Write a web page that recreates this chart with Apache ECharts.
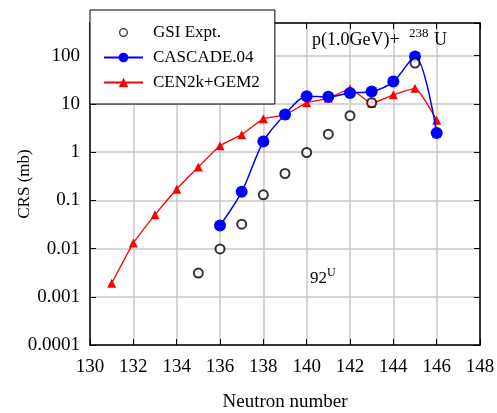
<!DOCTYPE html>
<html>
<head>
<meta charset="utf-8">
<script src="https://cdn.jsdelivr.net/npm/echarts@6/dist/echarts.min.js"></script>
<style>
html,body{margin:0;padding:0;background:#fff;}
#chart{width:497px;height:413px;}
</style>
</head>
<body>
<div id="chart"></div>
<script>
// ---- data ----
const xTicks = [130, 132, 134, 136, 138, 140, 142, 144, 146, 148];
const yTicks = ['0.0001', '0.001', '0.01', '0.1', '1', '10', '100'];

const gsiN   = [135, 136, 137, 138, 139, 140, 141, 142, 143, 145];
const gsiCRS = [0.0031, 0.0098, 0.032, 0.13, 0.36, 0.98, 2.35, 5.7, 10.6, 70];

const cascadeN   = [136, 137, 138, 139, 140, 141, 142, 143, 144, 145, 146];
const cascadeCRS = [0.030, 0.15, 1.65, 6.0, 14.4, 14.0, 16.8, 18, 29, 96, 2.5];

const cenN   = [131, 132, 133, 134, 135, 136, 137, 138, 139, 140, 141, 142, 143, 144, 145, 146];
const cenCRS = [0.0019, 0.013, 0.05, 0.17, 0.49, 1.36, 2.3, 4.9, 5.9, 10.5, 13, 20.5, 10.3, 15.4, 21, 4.6];

const seriesNames = ['GSI Expt.', 'CASCADE.04', 'CEN2k+GEM2'];

const zip = (a, b) => a.map((v, i) => [v, b[i]]);
const FONT = '"Liberation Serif", "Times New Roman", serif';

const chart = echarts.init(document.getElementById('chart'), null, {renderer: 'canvas'});

const yLabelFmt = (v) => {
  const e = Math.round(Math.log10(v));
  if (Math.abs(Math.log10(v) - e) > 1e-6) return '';
  const idx = e + 4;
  return yTicks[idx] !== undefined ? yTicks[idx] : '';
};

// small hollow ring icon for the legend (bounding box 12x12, ring diameter 9)
const ringIcon = 'path://M0,0M12,12M6,1.5A4.5,4.5,0,1,1,6,10.5A4.5,4.5,0,1,1,6,1.5ZM6,2.8A3.2,3.2,0,1,0,6,9.2A3.2,3.2,0,1,0,6,2.8Z';

const option = {
  backgroundColor: '#fff',
  animation: false,
  grid: {left: 90, right: 17, top: 23, bottom: 68, outerBoundsMode: 'none', containLabel: false},
  legend: {
    data: [
      {name: seriesNames[0], icon: ringIcon, itemStyle: {color: '#000', borderWidth: 0}},
      {name: seriesNames[1]},
      {name: seriesNames[2]}
    ],
    orient: 'vertical',
    left: 90, top: 10,
    padding: [14, 15, 13, 13],
    itemGap: 8,
    itemWidth: 39,
    itemHeight: 12,
    backgroundColor: '#fff',
    borderColor: '#000',
    borderWidth: 1,
    borderRadius: 0,
    textStyle: {fontFamily: FONT, fontSize: 17, color: '#000', padding: [0, 0, 0, 5]}
  },
  xAxis: [{
    type: 'value', min: 130, max: 148, interval: 2,
    name: 'Neutron number', nameLocation: 'middle', nameGap: 48, nameMoveOverlap: false,
    nameTextStyle: {fontFamily: FONT, fontSize: 19, color: '#000'},
    axisLine: {show: true, lineStyle: {color: '#000', width: 1.5}},
    axisTick: {show: true, inside: true, length: 6, lineStyle: {color: '#000', width: 1}},
    axisLabel: {fontFamily: FONT, fontSize: 19, color: '#000', margin: 13,
      formatter: (v) => (xTicks.indexOf(v) >= 0 ? String(v) : '')},
    splitLine: {show: true, lineStyle: {color: '#c8c8c8', width: 1.5}}
  }, {
    type: 'value', min: 130, max: 148, interval: 2, position: 'top',
    axisLine: {show: true, lineStyle: {color: '#000', width: 1.5}},
    axisTick: {show: true, inside: true, length: 6, lineStyle: {color: '#000', width: 1}},
    axisLabel: {show: false}, splitLine: {show: false}
  }],
  yAxis: [{
    type: 'log', logBase: 10, min: 0.0001, max: 475, interval: 1,
    name: 'CRS (mb)', nameLocation: 'middle', nameGap: 57, nameMoveOverlap: false,
    nameTextStyle: {fontFamily: FONT, fontSize: 17, color: '#000'},
    axisLine: {show: true, lineStyle: {color: '#000', width: 1.5}},
    axisTick: {show: true, inside: true, length: 6, lineStyle: {color: '#000', width: 1}},
    minorTick: {show: false},
    axisLabel: {fontFamily: FONT, fontSize: 19, color: '#000', margin: 10,
      showMaxLabel: false, formatter: yLabelFmt},
    splitLine: {show: true, lineStyle: {color: '#c8c8c8', width: 1.5}}
  }, {
    type: 'log', logBase: 10, min: 0.0001, max: 475, interval: 1, position: 'right',
    axisLine: {show: true, lineStyle: {color: '#000', width: 1.5}},
    axisTick: {show: true, inside: true, length: 6, lineStyle: {color: '#000', width: 1}},
    axisLabel: {show: false}, splitLine: {show: false}
  }],
  series: [
    {
      name: 'CEN2k+GEM2', type: 'line', xAxisIndex: 0, yAxisIndex: 0,
      data: zip(cenN, cenCRS), smooth: 0.15,
      symbol: 'triangle', symbolSize: 9,
      lineStyle: {color: '#ff0000', width: 1.3},
      itemStyle: {color: '#ff0000'}, z: 3
    },
    {
      name: 'CASCADE.04', type: 'line', xAxisIndex: 0, yAxisIndex: 0,
      data: zip(cascadeN, cascadeCRS), smooth: 0.3,
      symbol: 'circle', symbolSize: 12,
      lineStyle: {color: '#0000ff', width: 1.5},
      itemStyle: {color: '#0000ff'}, z: 4
    },
    {
      name: 'GSI Expt.', type: 'scatter', xAxisIndex: 0, yAxisIndex: 0,
      data: zip(gsiN, gsiCRS),
      symbol: 'emptyCircle', symbolSize: 9,
      itemStyle: {color: '#000', borderColor: '#000', borderWidth: 1.8}, z: 5
    }
  ],
  graphic: [
    {type: 'text', left: 312, top: 31, z: 10, style: {text: 'p(1.0GeV)+', font: '18px ' + FONT, fill: '#000'}},
    {type: 'text', left: 409, top: 27, z: 10, style: {text: '238', font: '13px ' + FONT, fill: '#000'}},
    {type: 'text', left: 434, top: 31, z: 10, style: {text: 'U', font: '18px ' + FONT, fill: '#000'}},
    {type: 'text', left: 310, top: 270, z: 10, style: {text: '92', font: '17px ' + FONT, fill: '#000'}},
    {type: 'text', left: 327, top: 267, z: 10, style: {text: 'U', font: '12px ' + FONT, fill: '#000'}}
  ]
};
chart.setOption(option);
</script>
</body>
</html>
